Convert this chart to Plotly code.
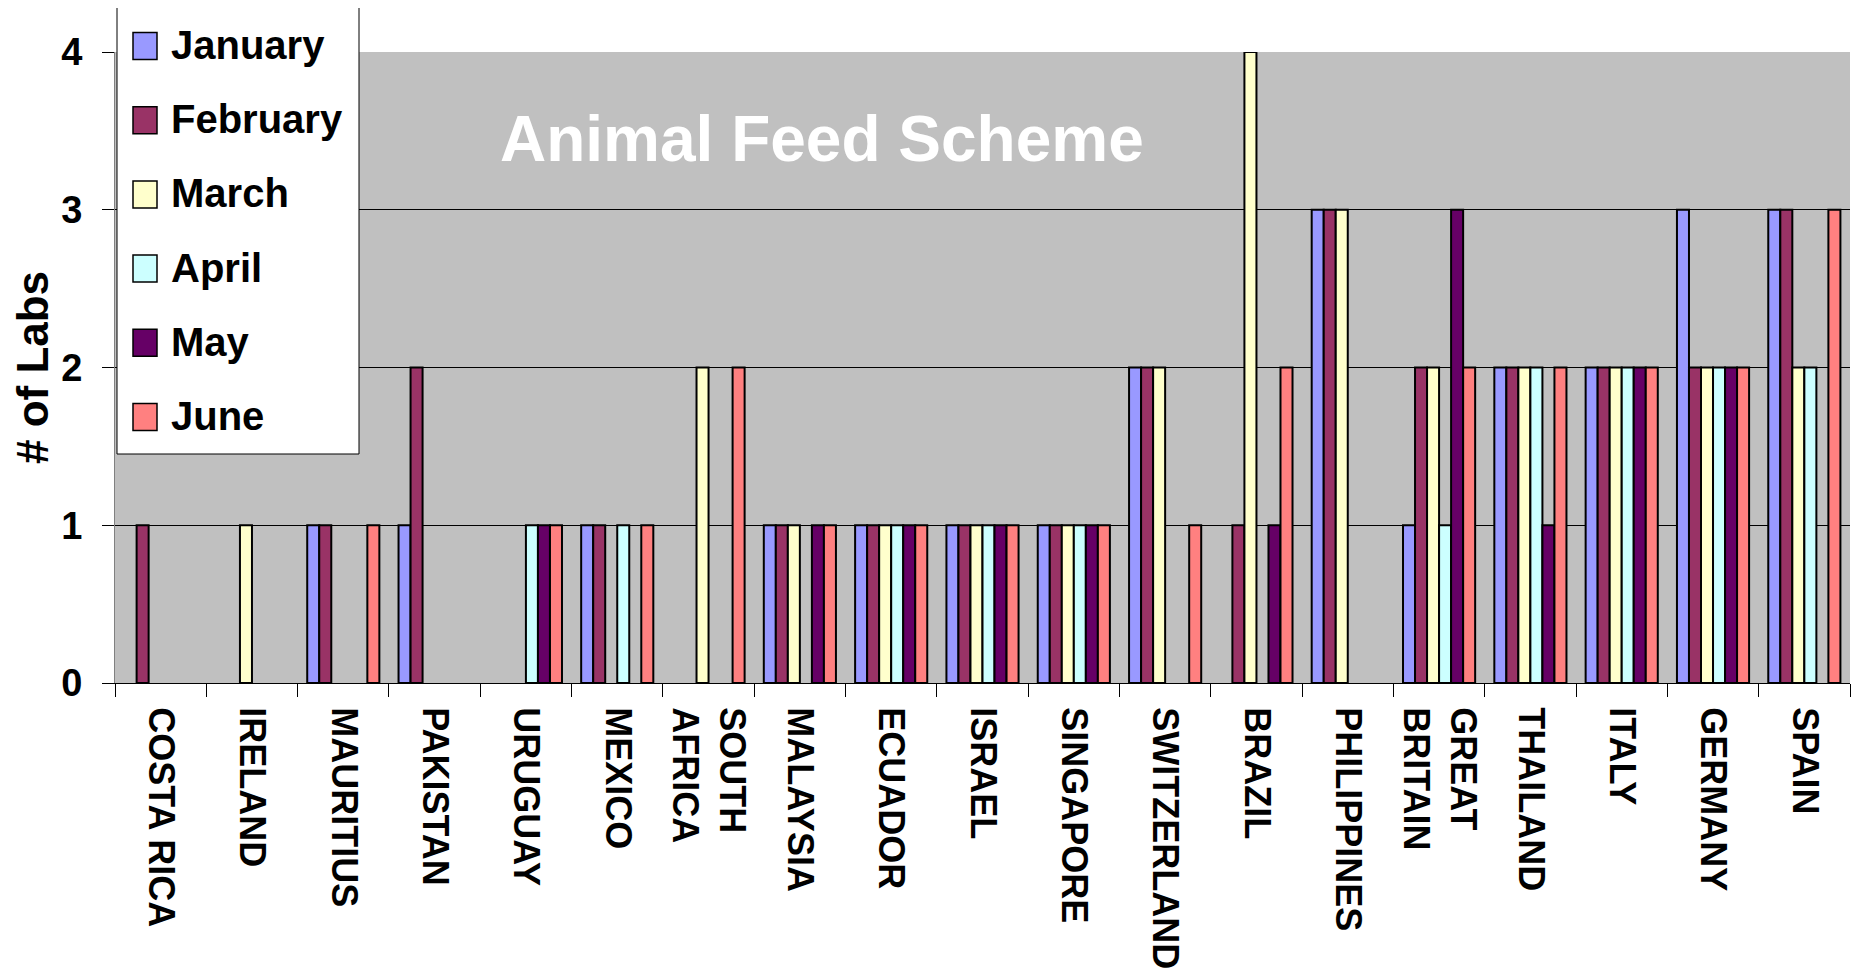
import plotly.graph_objects as go

# ---------------- data ----------------
countries = ["COSTA RICA", "IRELAND", "MAURITIUS", "PAKISTAN", "URUGUAY", "MEXICO",
             "SOUTH AFRICA", "MALAYSIA", "ECUADOR", "ISRAEL", "SINGAPORE", "SWITZERLAND",
             "BRAZIL", "PHILIPPINES", "GREAT BRITAIN", "THAILAND", "ITALY", "GERMANY", "SPAIN"]
tick_labels = ["COSTA RICA", "IRELAND", "MAURITIUS", "PAKISTAN", "URUGUAY", "MEXICO",
               "SOUTH<br>AFRICA", "MALAYSIA", "ECUADOR", "ISRAEL", "SINGAPORE", "SWITZERLAND",
               "BRAZIL", "PHILIPPINES", "GREAT<br>BRITAIN", "THAILAND", "ITALY", "GERMANY", "SPAIN"]
months = ["January", "February", "March", "April", "May", "June"]

january  = [0, 0, 1, 1, 0, 1, 0, 1, 1, 1, 1, 2, 0, 3, 1, 2, 2, 3, 3]
february = [1, 0, 1, 2, 0, 1, 0, 1, 1, 1, 1, 2, 1, 3, 2, 2, 2, 2, 3]
march    = [0, 1, 0, 0, 0, 0, 2, 1, 1, 1, 1, 2, 4, 3, 2, 2, 2, 2, 2]
april    = [0, 0, 0, 0, 1, 1, 0, 0, 1, 1, 1, 0, 0, 0, 1, 2, 2, 2, 2]
may      = [0, 0, 0, 0, 1, 0, 0, 1, 1, 1, 1, 0, 1, 0, 3, 1, 2, 2, 0]
june     = [0, 0, 1, 0, 1, 1, 2, 1, 1, 1, 1, 1, 2, 0, 2, 2, 2, 2, 3]
series = [january, february, march, april, may, june]
colors = ["#9999FF", "#993366", "#FFFFCC", "#CCFFFF", "#660066", "#FF8080"]

title_text = "Animal Feed Scheme"
y_title = "# of Labs"

# ---------------- layout geometry ----------------
# the page body has an 8px margin, so the figure is drawn 8px smaller and all
# page-space pixel positions are shifted by that offset
OFF = 8
W, H = 1860 - OFF, 969 - OFF
ML, MR, MT, MB = 115 - OFF, 10, 52 - OFF, 294 - OFF
PW, PH = W - ML - MR, H - MT - MB
FONT = "Liberation Sans, Arial, sans-serif"


def px_x(px):
    return (px - OFF - ML) / PW


def px_y(py):
    return (H - MB - (py - OFF)) / PH


fig = go.Figure()
for name, vals, col in zip(months, series, colors):
    fig.add_trace(go.Bar(
        x=countries, y=[v if v else None for v in vals], name=name, showlegend=False,
        marker=dict(color=col, line=dict(color="black", width=2)),
    ))

# manual legend (large square swatches as in the reference)
shapes = [dict(type="rect", xref="paper", yref="paper",
               x0=px_x(117), x1=px_x(359), y0=px_y(454), y1=px_y(6),
               fillcolor="white", line=dict(color="black", width=1), layer="above")]
annotations = []
legend_top = 46
legend_step = 74.2
for i, (name, col) in enumerate(zip(months, colors)):
    cy = legend_top + i * legend_step
    shapes.append(dict(type="rect", xref="paper", yref="paper",
                       x0=px_x(133), x1=px_x(157), y0=px_y(cy + 13.5), y1=px_y(cy - 13.5),
                       fillcolor=col, line=dict(color="black", width=1.5), layer="above"))
    annotations.append(dict(xref="paper", yref="paper", x=px_x(169), y=px_y(cy - 1),
                            xanchor="left", yanchor="middle", showarrow=False, text=name,
                            font=dict(family=FONT, size=40, color="black", weight="bold")))

annotations.append(dict(xref="paper", yref="paper", x=px_x(822), y=px_y(139),
                        xanchor="center", yanchor="middle", showarrow=False, text=title_text,
                        font=dict(family=FONT, size=64, color="white", weight="bold")))

fig.update_layout(
    width=W, height=H,
    margin=dict(l=ML, r=MR, t=MT, b=MB, pad=0),
    paper_bgcolor="white", plot_bgcolor="#C0C0C0",
    barmode="group", bargap=0.21, bargroupgap=0,
    shapes=shapes, annotations=annotations,
    showlegend=False,
    font=dict(family=FONT, color="black"),
)
fig.update_xaxes(
    type="category", tickvals=countries, ticktext=tick_labels,
    tickangle=90, tickfont=dict(family=FONT, size=36, color="black", weight="bold"),
    ticks="outside", tickson="boundaries", ticklen=13, tickcolor="black", tickwidth=1,
    showline=True, linecolor="black", linewidth=1, showgrid=False,
    ticklabelstandoff=16, automargin=False,
)
fig.update_yaxes(
    range=[0, 4], dtick=1, tick0=0,
    tickfont=dict(family=FONT, size=38, color="black", weight="bold"),
    ticks="outside", ticklen=12, tickcolor="black", tickwidth=1,
    showline=True, linecolor="#808080", linewidth=1,
    showgrid=True, gridcolor="black", gridwidth=1, zeroline=False,
    ticklabelstandoff=12,
    title=dict(text=y_title, standoff=18,
               font=dict(family=FONT, size=44, color="black", weight="bold")),
    automargin=False,
)

fig.write_html("out.html")
